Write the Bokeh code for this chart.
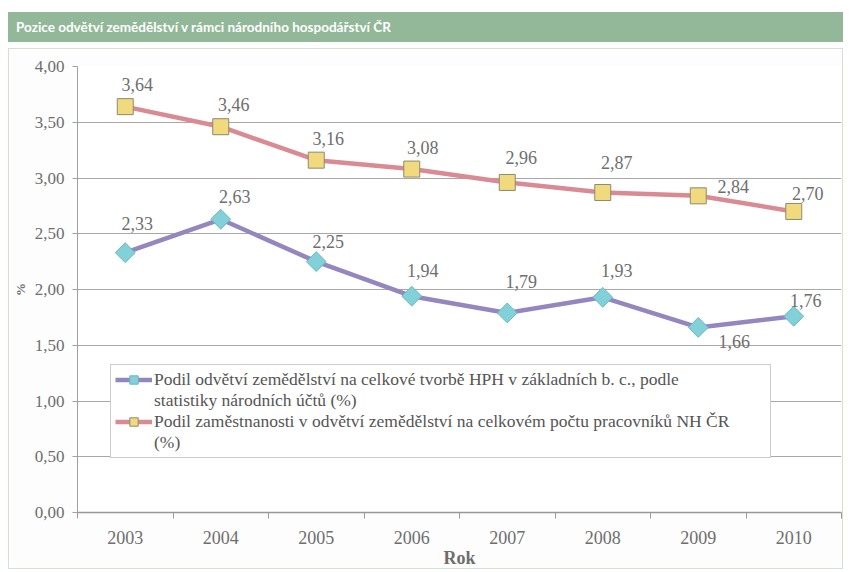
import math
from bokeh.plotting import figure
from bokeh.models import (ColumnDataSource, FixedTicker, CustomJSTickFormatter, Legend,
                          LegendItem, Div, LabelSet)
from bokeh.core.properties import value
from bokeh.layouts import column
from bokeh.embed import file_html
from bokeh.resources import INLINE

# ---- data ----
years = ["2003", "2004", "2005", "2006", "2007", "2008", "2009", "2010"]
hph_share = [2.33, 2.63, 2.25, 1.94, 1.79, 1.93, 1.66, 1.76]
employment_share = [3.64, 3.46, 3.16, 3.08, 2.96, 2.87, 2.84, 2.70]
y_ticks = [0.0, 0.5, 1.0, 1.5, 2.0, 2.5, 3.0, 3.5, 4.0]

title_text = "Pozice odvětví zemědělství v rámci národního hospodářství ČR"
name_hph = ["Podil odvětví zemědělství na celkové tvorbě HPH v základních b. c., podle",
            "statistiky národních účtů (%)"]
name_emp = ["Podil zaměstnanosti v odvětví zemědělství na celkovém počtu pracovníků NH ČR",
            "(%)"]

# label offsets (style, screen px)
hph_dx = [12, 14, 12, 11, 14, 14, 36, 12]
hph_dy = [29, 23, 20, 26, 31, 27, -14, 16]
emp_dx = [12, 13, 12, 11, 14, 14, 35, 14]
emp_dy = [22, 22, 22, 22, 25, 30, 9, 18]

SERIF = "Liberation Serif"
TXT = "#6e6e6e"

xi = list(range(len(years)))
fmt = lambda v: f"{v:.2f}".replace(".", ",")

src_h = ColumnDataSource(dict(x=xi, y=hph_share, t=[fmt(v) for v in hph_share], dx=hph_dx, dy=hph_dy))
src_e = ColumnDataSource(dict(x=xi, y=employment_share, t=[fmt(v) for v in employment_share], dx=emp_dx, dy=emp_dy))

p = figure(width=835, height=521, output_backend="svg", toolbar_location=None,
           x_range=(-0.5, len(years) - 0.5), y_range=(0, 4),
           min_border_left=66, min_border_right=3, min_border_top=17, min_border_bottom=57,
           margin=(0, 0, 0, 8))
p.outline_line_color = None
p.background_fill_color = "white"
p.border_fill_color = "#fdfdfd"
p.styles = {"border": "1px solid #d3e0d3", "box-sizing": "border-box"}

# grid
p.xgrid.grid_line_color = None
p.ygrid.ticker = FixedTicker(ticks=y_ticks)
p.ygrid.grid_line_color = "#a8a8a8"
p.ygrid.grid_line_width = 1

# y axis
p.yaxis.ticker = FixedTicker(ticks=y_ticks)
p.yaxis.formatter = CustomJSTickFormatter(code="return tick.toFixed(2).replace('.', ',');")
p.yaxis.axis_line_color = "#a0a0a0"
p.yaxis.major_tick_line_color = "#a0a0a0"
p.yaxis.major_tick_out = 5
p.yaxis.major_tick_in = 0
p.yaxis.minor_tick_line_color = None
p.yaxis.major_label_text_font = SERIF
p.yaxis.major_label_text_font_size = "17px"
p.yaxis.major_label_text_color = TXT
p.yaxis.major_label_standoff = 8
p.yaxis.axis_label = "%"
p.yaxis.axis_label_text_font = SERIF
p.yaxis.axis_label_text_font_size = "13px"
p.yaxis.axis_label_text_font_style = "bold"
p.yaxis.axis_label_text_color = TXT
p.yaxis.axis_label_standoff = 4

# x axis
p.xaxis.ticker = FixedTicker(ticks=xi, minor_ticks=[i - 0.5 for i in xi] + [xi[-1] + 0.5])
p.xaxis.major_label_overrides = {i: y for i, y in zip(xi, years)}
p.xaxis.axis_line_color = "#999999"
p.xaxis.axis_line_width = 1.5
p.xaxis.major_tick_line_color = None
p.xaxis.major_tick_out = 0
p.xaxis.major_tick_in = 0
p.xaxis.minor_tick_line_color = "#999999"
p.xaxis.minor_tick_out = 6
p.xaxis.minor_tick_in = 0
p.xaxis.major_label_text_font = SERIF
p.xaxis.major_label_text_font_size = "18px"
p.xaxis.major_label_text_color = TXT
p.xaxis.major_label_standoff = 12
p.xaxis.axis_label = "Rok"
p.xaxis.axis_label_text_font = SERIF
p.xaxis.axis_label_text_font_size = "18px"
p.xaxis.axis_label_text_font_style = "bold"
p.xaxis.axis_label_text_color = TXT
p.xaxis.axis_label_standoff = 1

# series
l_e = p.line("x", "y", source=src_e, line_color="#d98a92", line_width=4.5)
m_e = p.scatter("x", "y", source=src_e, marker="square", size=16,
                fill_color="#f1d97e", line_color="#8c8a70", line_width=1)
l_h = p.line("x", "y", source=src_h, line_color="#9487bf", line_width=4.5)
m_h = p.scatter("x", "y", source=src_h, marker="square", angle=math.pi / 4, size=14,
                fill_color="#82d0d8", line_color="#6ab7c2", line_width=1)
# invisible helper renderer for continuation lines of legend labels
blank = p.line(x=[], y=[], line_alpha=0)

for s in (src_h, src_e):
    p.add_layout(LabelSet(x="x", y="y", text="t", source=s, x_offset="dx", y_offset="dy",
                          text_font=value(SERIF), text_font_size=value("18px"), text_color=TXT,
                          text_align="center", text_baseline="middle"))

legend = Legend(items=[LegendItem(label=name_hph[0], renderers=[l_h, m_h]),
                       LegendItem(label=name_hph[1], renderers=[blank]),
                       LegendItem(label=name_emp[0], renderers=[l_e, m_e]),
                       LegendItem(label=name_emp[1], renderers=[blank])],
                location=(33, 54), orientation="vertical")
legend.label_text_font = SERIF
legend.label_text_font_size = "17.5px"
legend.label_text_color = "#555555"
legend.border_line_color = "#9a9a9a"
legend.border_line_width = 1
legend.background_fill_alpha = 1
legend.padding = 4
legend.margin = 0
legend.spacing = 0
legend.glyph_width = 37
legend.glyph_height = 21
legend.label_standoff = 2
legend.label_height = 21
legend.label_width = 612
p.add_layout(legend)

title = Div(text=f'<div style="padding-left:8px; line-height:30px; color:white; font-weight:bold; '
                 f'font-size:13.5px; font-family:Lato, sans-serif;">{title_text}</div>',
            width=835, height=30, margin=(12, 0, 6, 8),
            styles={"background-color": "#92b899"})

layout = column(title, p, spacing=0)
open("out.html", "w").write(file_html(layout, INLINE))
